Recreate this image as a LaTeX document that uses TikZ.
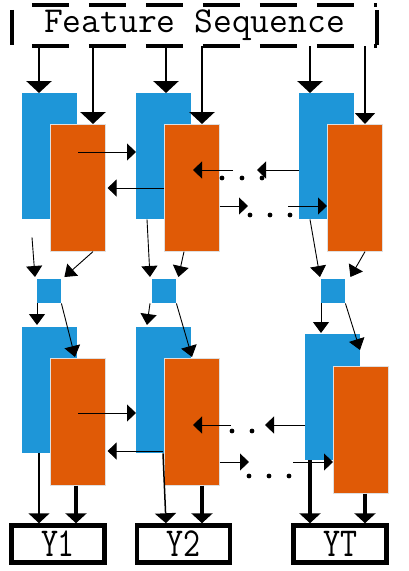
\documentclass[tikz,border=0pt]{standalone}
\usepackage{tikz}
\usepackage{graphicx}
\usetikzlibrary{positioning, arrows.meta}

\definecolor{fwdblue}{HTML}{1E96D8}
\definecolor{bwdorange}{HTML}{E05A06}

\begin{document}
\begin{tikzpicture}[
    x=1pt, y=-1pt,
    fwd/.style={fill=fwdblue, minimum width=55pt, minimum height=126pt, inner sep=0pt, anchor=north west},
    bwd/.style={fill=bwdorange, draw=white!75!gray, line width=0.6pt, minimum width=55pt, minimum height=127pt, inner sep=0pt, anchor=north west},
    merge/.style={fill=fwdblue, minimum size=24pt, inner sep=0pt, anchor=north west},
    outbox/.style={draw, line width=4.5pt, minimum width=93pt, minimum height=37pt, inner sep=0pt, font=\ttfamily\fontsize{33}{33}\selectfont},
    dashline/.style={line width=4pt, dash pattern=on 37pt off 20pt, dash phase=37pt},
    bigarrow/.style={line width=2.8pt, -{Triangle[length=12pt, width=25pt]}},
    midarrow/.style={line width=1.8pt, -{Triangle[length=11pt, width=20pt]}},
    thinarrow/.style={line width=0.9pt, -{Triangle[length=9pt, width=17pt]}},
    downarrow/.style={line width=0.9pt, -{Triangle[length=11pt, width=16pt]}},
    yarrow/.style={line width=3.5pt, -{Triangle[length=10pt, width=21pt]}},
    ythin/.style={line width=1.5pt, -{Triangle[length=10pt, width=21pt]}}
]
\useasboundingbox (0,0) rectangle (408,571);

% Feature sequence
\node[minimum width=365pt, minimum height=41pt, inner sep=0pt, font=\ttfamily\fontsize{36.5}{36.5}\selectfont] (seq) at (194.5,25.5) {Feature Sequence};
\draw[dashline] (seq.north west) -- (seq.north east);
\draw[dashline] (seq.south west) -- (seq.south east);
\draw[line width=4pt] ([yshift=-5pt]seq.north west) -- ([yshift=1pt]seq.south west);
\draw[line width=4pt] ([yshift=-5pt]seq.north east) -- ([yshift=1pt]seq.south east);

% First layer
\node[fwd] (b1) at (22,93) {};
\node[fwd] (b2) at (136,93) {};
\node[fwd] (b3) at (299,93) {};
\node[bwd] (o1) at (50,124) {};
\node[bwd] (o2) at (164,124) {};
\node[bwd] (o3) at (327,124) {};

% Merge
\node[merge] (s1) at (37,279) {};
\node[merge] (s2) at (152,279) {};
\node[merge] (s3) at (321,279) {};

% Second layer
\node[fwd] (c1) at (22,327) {};
\node[fwd] (c2) at (136,327) {};
\node[fwd] (c3) at (305,334) {};
\node[bwd] (d1) at (50,358) {};
\node[bwd] (d2) at (164,358) {};
\node[bwd] (d3) at (333,366) {};

% Outputs
\node[outbox] (y1) at (58,544) {\scalebox{1}[1.25]{Y1}};
\node[outbox] (y2) at (183.5,544) {\scalebox{1}[1.25]{Y2}};
\node[outbox] (yT) at (340,544) {\scalebox{1}[1.25]{YT}};

% Free ends
\coordinate (l1) at (233,170);
\coordinate (l2) at (257,170);
\coordinate (r1) at (248,206);
\coordinate (r2) at (288,206);
\coordinate (l3) at (231,425);
\coordinate (l4) at (265,425);
\coordinate (r3) at (249,462);
\coordinate (r4) at (293,462);

% Input arrows
\draw[bigarrow] ([xshift=17pt]b1.north west |- seq.south) -- ([xshift=17pt]b1.north west);
\draw[bigarrow] ([xshift=43pt]o1.north west |- seq.south) -- ([xshift=43pt]o1.north west);
\draw[bigarrow] ([xshift=30pt]b2.north west |- seq.south) -- ([xshift=30pt]b2.north west);
\draw[bigarrow] ([xshift=38pt]o2.north west |- seq.south) -- ([xshift=38pt]o2.north west);
\draw[bigarrow] ([xshift=11pt]b3.north west |- seq.south) -- ([xshift=11pt]b3.north west);
\draw[midarrow] ([xshift=38pt]o3.north west |- seq.south) -- ([xshift=38pt]o3.north west);

% First layer recurrence
\draw[thinarrow] ([shift={(28,28)}]o1.north west) -- ([shift={(0,59)}]b2.north west);
\draw[thinarrow] ([shift={(0,64)}]o2.north west) -- ([shift={(2,64)}]o1.north east);
\draw[thinarrow] (l1) -- ([shift={(29,46)}]o2.north west);
\draw[thinarrow] ([shift={(0,77)}]b3.north west) -- (l2);
\draw[thinarrow] ([shift={(0,82)}]o2.north east) -- (r1);
\draw[thinarrow] (r2) -- ([shift={(0,82)}]o3.north west);
\foreach \x in {222,242,262} \fill (\x,178) circle (2.4);
\foreach \x in {250,270,290} \fill (\x,215) circle (2.4);

% Into merge
\draw[downarrow] ([shift={(10,18)}]b1.south west) -- ([shift={(-2,-2)}]s1.north west);
\draw[downarrow] ([xshift=43pt]o1.south west) -- ([shift={(3,-2)}]s1.north east);
\draw[downarrow] ([xshift=11pt]b2.south west) -- ([shift={(-2,-2)}]s2.north west);
\draw[downarrow] ([xshift=20pt]o2.south west) -- ([shift={(2,-2)}]s2.north east);
\draw[downarrow] ([xshift=11pt]b3.south west) -- ([shift={(-1,-2)}]s3.north west);
\draw[downarrow] ([xshift=38pt]o3.south west) -- ([shift={(5,-2)}]s3.north east);

% Out of merge
\draw[downarrow] (s1.south west) -- ([shift={(15,-2)}]c1.north west);
\draw[downarrow] (s1.south east) -- ([shift={(25,-1)}]d1.north west);
\draw[downarrow] ([xshift=-2pt]s2.south west) -- ([shift={(11,-2)}]c2.north west);
\draw[downarrow] (s2.south east) -- ([shift={(28,-1)}]d2.north west);
\draw[downarrow] (s3.south west) -- ([shift={(16,-1)}]c3.north west);
\draw[downarrow] (s3.south east) -- ([shift={(55,16)}]c3.north west);

% Second layer recurrence
\draw[thinarrow] ([shift={(28,55)}]d1.north west) -- ([shift={(0,86)}]c2.north west);
\draw[thinarrow] ([shift={(-1,93)}]d2.north west) -- ([shift={(2,93)}]d1.north east);
\draw[thinarrow] (l3) -- ([shift={(29,67)}]d2.north west);
\draw[thinarrow] ([shift={(0,91)}]c3.north west) -- (l4);
\draw[thinarrow] ([shift={(0,104)}]d2.north east) -- (r3);
\draw[thinarrow] (r4) -- ([shift={(0,96)}]d3.north west);
\foreach \x in {232,252} \fill (\x,431) circle (2.4);
\foreach \x in {249,269,289} \fill (\x,476) circle (2.4);

% Outputs
\draw[ythin] ([xshift=17pt]c1.south west) -- ([xshift=17pt]c1.south west |- y1.north);
\draw[yarrow] ([xshift=26pt]d1.south west) -- ([xshift=26pt]d1.south west |- y1.north);
\draw[ythin] ([xshift=27pt]c2.south west) -- ([xshift=30pt]c2.south west |- y2.north);
\draw[yarrow] ([xshift=38pt]d2.south west) -- ([xshift=38pt]d2.south west |- y2.north);
\draw[yarrow] ([xshift=5pt]c3.south west) -- ([xshift=5pt]c3.south west |- yT.north);
\draw[yarrow] ([xshift=32pt]d3.south west) -- ([xshift=32pt]d3.south west |- yT.north);

\end{tikzpicture}
\end{document}
